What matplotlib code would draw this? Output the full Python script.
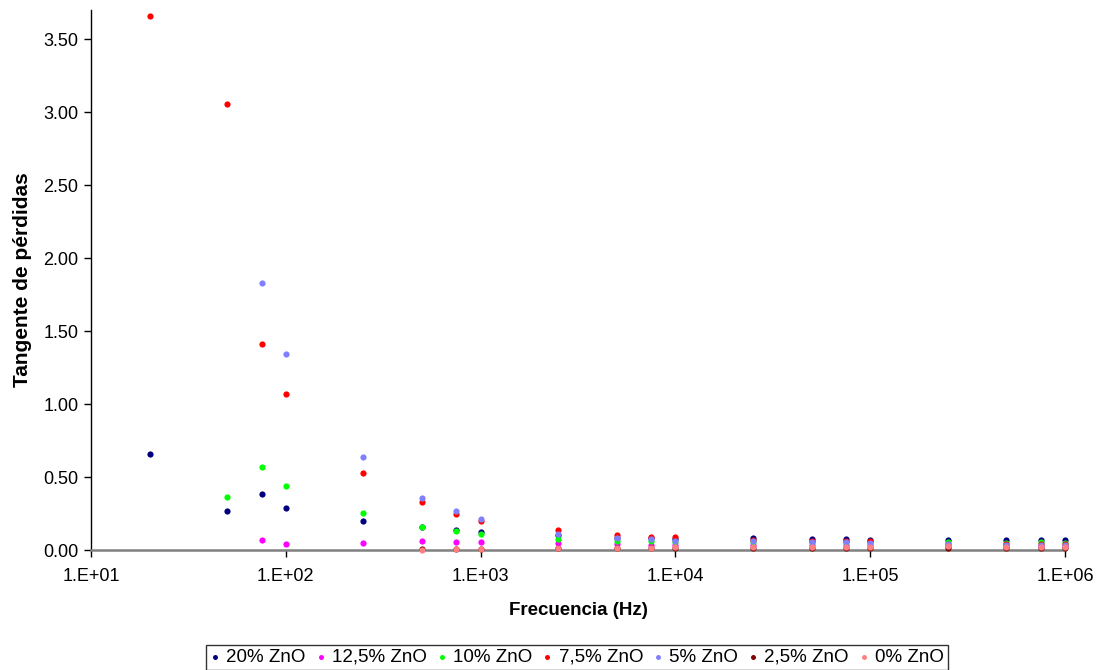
import matplotlib
matplotlib.use("Agg")
import matplotlib.pyplot as plt
import numpy as np
from matplotlib.ticker import FixedLocator, FuncFormatter, NullLocator

plt.rcParams["font.family"] = ["Liberation Sans", "DejaVu Sans"]

nan = np.nan
FREQ = [20, 50, 75, 100, 250, 500, 750, 1000, 2500, 5000, 7500, 1e4,
        2.5e4, 5e4, 7.5e4, 1e5, 2.5e5, 5e5, 7.5e5, 1e6]

ZNO_20 = [0.66, 0.265, 0.386, 0.29, 0.199, 0.155, 0.14, 0.125, 0.10, 0.085,
          0.08, 0.078, 0.08, 0.075, 0.073, 0.071, 0.068, 0.067, 0.066, 0.066]
ZNO_125 = [nan, nan, 0.066, 0.043, 0.048, 0.06, 0.057, 0.053, 0.046, 0.04,
           0.038, 0.036, 0.035, 0.034, 0.033, 0.032, 0.03, 0.03, 0.03, 0.03]
ZNO_10 = [nan, 0.363, 0.57, 0.436, 0.251, 0.16, 0.13, 0.11, 0.077, 0.065,
          0.06, 0.058, 0.055, 0.054, 0.053, 0.053, 0.055, 0.05, 0.052, 0.05]
ZNO_75 = [3.66, 3.055, 1.41, 1.066, 0.527, 0.327, 0.25, 0.20, 0.139, 0.103,
          0.091, 0.087, 0.07, 0.065, 0.062, 0.06, 0.045, 0.042, 0.04, 0.04]
ZNO_5 = [nan, nan, 1.83, 1.34, 0.635, 0.356, 0.265, 0.21, 0.11, 0.084,
         0.078, 0.062, 0.06, 0.055, 0.052, 0.05, 0.04, 0.038, 0.036, 0.035]
ZNO_25 = [nan, nan, nan, nan, nan, 0.005, 0.008, 0.008, 0.012, 0.013,
          0.013, 0.013, 0.012, 0.012, 0.012, 0.012, 0.013, 0.012, 0.012, 0.012]
ZNO_0 = [nan, nan, nan, nan, nan, 0.002, 0.01, 0.01, 0.016, 0.017,
         0.017, 0.02, 0.02, 0.02, 0.02, 0.02, 0.025, 0.022, 0.022, 0.02]

SERIES = [
    ("20% ZnO", ZNO_20, "#000080"),
    ("12,5% ZnO", ZNO_125, "#FF00FF"),
    ("10% ZnO", ZNO_10, "#00FF00"),
    ("7,5% ZnO", ZNO_75, "#FF0000"),
    ("5% ZnO", ZNO_5, "#8080FF"),
    ("2,5% ZnO", ZNO_25, "#800000"),
    ("0% ZnO", ZNO_0, "#FF8080"),
]
YTICKS = [0.0, 0.5, 1.0, 1.5, 2.0, 2.5, 3.0, 3.5]

fig = plt.figure(figsize=(11.05, 6.7), dpi=100)
ax = fig.add_axes([0.0824, 0.179, 0.8814, 0.806])

for label, vals, color in SERIES:
    ax.scatter(FREQ, vals, s=20, color=color, label=label, linewidths=0,
               zorder=3, clip_on=False)

ax.set_xscale("log")
ax.set_xlim(10, 1e6)
ax.set_ylim(0, 3.70)
ax.xaxis.set_major_locator(FixedLocator([1e1, 1e2, 1e3, 1e4, 1e5, 1e6]))
ax.xaxis.set_minor_locator(NullLocator())
ax.xaxis.set_major_formatter(FuncFormatter(lambda v, p: "1.E+%02d" % round(np.log10(v))))
ax.set_yticks(YTICKS)
ax.yaxis.set_major_formatter(FuncFormatter(lambda v, p: "%.2f" % v))

# solo ejes izquierdo e inferior, el inferior en gris
for s in ["top", "right"]:
    ax.spines[s].set_visible(False)
ax.spines["left"].set_color("black")
ax.spines["left"].set_linewidth(1.0)
ax.spines["bottom"].set_color("#808080")
ax.spines["bottom"].set_linewidth(1.8)
ax.tick_params(axis="both", direction="out", length=5, width=1.0, labelsize=13,
               color="black")
ax.tick_params(axis="x", pad=8)
ax.tick_params(axis="y", pad=4)

ax.set_xlabel("Frecuencia (Hz)", fontsize=13.5, fontweight="bold", labelpad=12)
ax.set_ylabel("Tangente de pérdidas", fontsize=15, fontweight="bold", labelpad=8)

leg = fig.legend(loc="center", bbox_to_anchor=(0.522, 0.019), ncol=7, fontsize=13.5,
                 frameon=True, fancybox=False, edgecolor="black", handletextpad=0.3,
                 columnspacing=0.5, borderpad=0.2, handlelength=0.6,
                 borderaxespad=0.0, markerscale=0.8, scatterpoints=1)
leg.get_frame().set_linewidth(1.0)

fig.savefig("out.png", dpi=100)
